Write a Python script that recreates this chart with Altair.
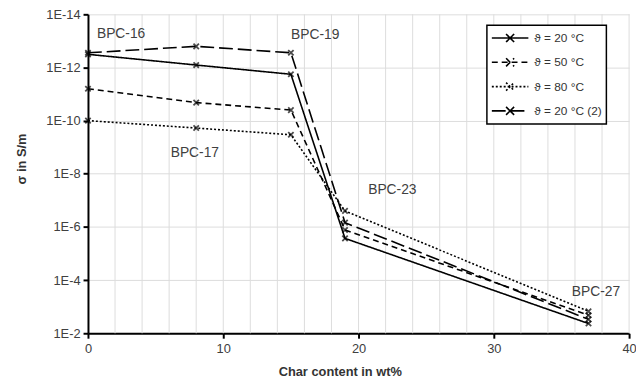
import altair as alt
import pandas as pd

# ---- data ----
char_content = [0, 8, 15, 19, 37]
series_names = ["ϑ = 20 °C", "ϑ = 50 °C", "ϑ = 80 °C", "ϑ = 20 °C (2)"]
sigma_20 = [3.2e-13, 8.1e-13, 1.8e-12, 2.7e-6, 4.3e-3]
sigma_50 = [6.3e-12, 2.1e-11, 4.0e-11, 1.3e-6, 2.1e-3]
sigma_80 = [1.0e-10, 1.9e-10, 3.4e-10, 2.5e-7, 1.5e-3]
sigma_20b = [2.8e-13, 1.6e-13, 2.8e-13, 6.9e-7, 3.0e-3]

label_text = ["BPC-16", "BPC-17", "BPC-19", "BPC-23", "BPC-27"]
label_x = [2.45, 7.9, 16.8, 22.5, 37.55]
label_y = [5.5e-14, 1.7e-9, 6.0e-14, 4.1e-8, 2.8e-4]

y_ticks = [1e-14, 1e-12, 1e-10, 1e-8, 1e-6, 1e-4, 1e-2]
x_ticks = [0, 10, 20, 30, 40]
x_grid = list(range(2, 41, 2))

rows = []
for name, vals in zip(series_names, [sigma_20, sigma_50, sigma_80, sigma_20b]):
    for x, v in zip(char_content, vals):
        rows.append({"series": name, "char": x, "sigma": v})
df = pd.DataFrame(rows)
labels_df = pd.DataFrame({"text": label_text, "char": label_x, "sigma": label_y})
grid_df = pd.DataFrame({"char": x_grid})

FONT = "Liberation Sans"
TXT = "#404040"

x_scale = alt.Scale(domain=[0, 40], nice=False)

x_enc = alt.X(
    "char:Q",
    scale=x_scale,
    axis=alt.Axis(
        values=x_ticks,
        title="Char content in wt%",
        grid=False,
        labelOverlap=False,
        labelFlush=False,
        titleX=255,
        titleY=33,
        labelPadding=4,
    ),
)
y_enc = alt.Y(
    "sigma:Q",
    scale=alt.Scale(type="log", domain=[1e-14, 1e-2], reverse=True, nice=False),
    axis=alt.Axis(
        values=y_ticks,
        title="σ in S/m",
        labelExpr="'1E' + round(log(datum.value) / LN10)",
        labelOverlap=False,
        labelFlush=False,
        titleX=-60,
        titleY=146,
        labelPadding=3,
    ),
)

dash_scale = alt.Scale(
    domain=series_names,
    range=[[1, 0], [6, 4], [2, 2], [14, 5]],
)

vgrid = alt.Chart(grid_df).mark_rule(color="#dcdcdc", strokeWidth=1).encode(
    x=alt.X("char:Q", scale=x_scale)
)

lines = alt.Chart(df).mark_line(color="black", strokeWidth=1.6).encode(
    x=x_enc,
    y=y_enc,
    strokeDash=alt.StrokeDash(
        "series:N",
        scale=dash_scale,
        sort=series_names,
        legend=alt.Legend(
            title=None,
            orient="none",
            legendX=404,
            legendY=11,
            symbolType="M-1,0L1,0M-0.22,-0.22L0.22,0.22M-0.22,0.22L0.22,-0.22",
            symbolSize=1369,
            symbolStrokeWidth=1.6,
            symbolStrokeColor="black",
            symbolFillColor="transparent",
            clipHeight=18,
            rowPadding=6.6,
            labelFont=FONT,
            labelFontSize=12,
            labelColor="#333333",
            labelOffset=5,
            padding=4,
            strokeColor="black",
            fillColor="white",
        ),
    ),
)

points = alt.Chart(df).mark_point(
    shape="M-1,-1L1,1M-1,1L1,-1", filled=False, color="black", size=30, strokeWidth=1.8
).encode(x="char:Q", y="sigma:Q", detail="series:N")

texts = alt.Chart(labels_df).mark_text(
    font=FONT, fontSize=14, color=TXT, align="center", baseline="middle"
).encode(x="char:Q", y="sigma:Q", text="text:N")

chart = (
    alt.layer(vgrid, lines, points, texts)
    .properties(
        width=548,
        height=323,
        autosize=alt.AutoSizeParams(type="none"),
        padding={"left": 81, "top": 4, "right": 7, "bottom": 50},
        background="white",
    )
    .configure_view(strokeWidth=0)
    .configure_legend(strokeWidth=1.5)
    .configure_axis(
        labelFont=FONT,
        labelFontSize=13,
        labelColor=TXT,
        titleFont=FONT,
        titleFontSize=13,
        titleFontWeight="bold",
        titleColor="#333333",
        domainColor="black",
        domainWidth=2,
        tickColor="black",
        tickWidth=2,
        tickSize=5,
        gridColor="#dcdcdc",
        gridWidth=1,
    )
)

chart.save("out.html", embed_options={"renderer": "svg", "actions": False})
